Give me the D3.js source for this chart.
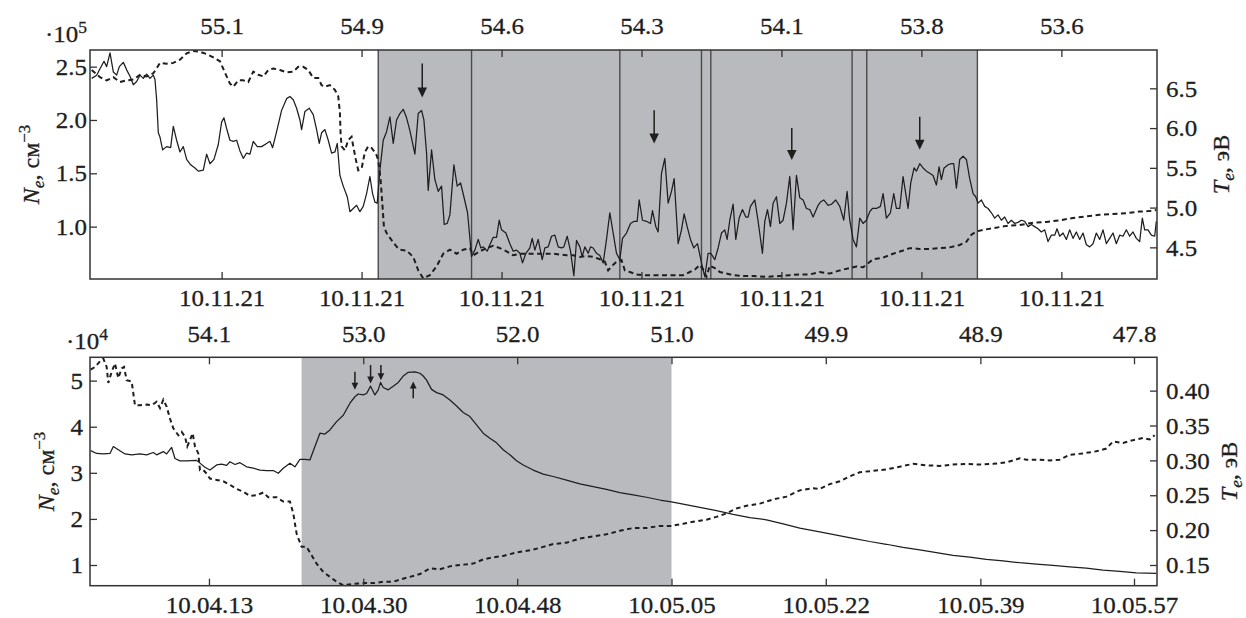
<!DOCTYPE html>
<html><head><meta charset="utf-8">
<script src="https://cdn.jsdelivr.net/npm/d3@7"></script>
<style>
body{margin:0;background:#fff}
svg text{font-family:"Liberation Serif","Times New Roman",serif;fill:#1e1e1e;stroke:#1e1e1e;stroke-width:0.3px}
</style></head><body>
<svg id="c" width="1246" height="618"></svg>
<script>
// ---------- DATA ----------
// x unit: sample index along the pass (same for both panels)
const xDomain = [0, 3202];

// Top panel
const topTickSamples = [395, 815, 1235, 1655, 2075, 2495, 2915];
const topLatLabels = ["55.1", "54.9", "54.6", "54.3", "54.1", "53.8", "53.6"];
const topTimeLabels = ["10.11.21", "10.11.21", "10.11.21", "10.11.21", "10.11.21", "10.11.21", "10.11.21"];
const topNeTicks = [1.0, 1.5, 2.0, 2.5];
const topTeTicks = [4.5, 5.0, 5.5, 6.0, 6.5];
const topNeDomain = [0.509, 2.656];
const topTeDomain = [4.102, 6.982];
const topShade = [[865, 2663]];
const topDividers = [865, 1145, 1590, 1835, 1863, 2287, 2331, 2663];
// arrows: [sample, tail Ne, tip Ne]
const topArrows = [[997, 2.53, 2.21], [1693, 2.09, 1.78], [2106, 1.925, 1.625], [2490, 2.03, 1.72]];

// Ne (x10^5 cm^-3), solid
const topNe = [[5,2.39],[20,2.42],[30,2.48],[42,2.55],[50,2.50],[60,2.63],[70,2.45],[80,2.42],[88,2.50],[100,2.54],[110,2.47],[120,2.41],[130,2.33],[140,2.36],[150,2.42],[160,2.39],[170,2.43],[180,2.39],[190,2.42],[195,2.38],[200,2.19],[205,1.88],[210,1.84],[218,1.72],[230,1.75],[242,1.74],[250,1.94],[260,1.81],[270,1.70],[280,1.75],[290,1.63],[302,1.58],[315,1.55],[325,1.52],[340,1.53],[350,1.68],[360,1.59],[372,1.63],[385,1.77],[395,1.98],[402,2.02],[410,1.92],[420,1.81],[430,1.80],[440,1.81],[450,1.71],[460,1.64],[470,1.69],[480,1.68],[490,1.80],[502,1.75],[515,1.75],[530,1.78],[540,1.80],[548,1.74],[560,1.89],[575,2.09],[590,2.20],[600,2.22],[610,2.19],[620,2.11],[630,2.00],[635,1.91],[645,2.08],[658,2.11],[670,2.05],[680,1.91],[688,1.78],[695,1.88],[705,1.91],[715,1.81],[725,1.69],[735,1.70],[742,1.78],[750,1.48],[760,1.38],[772,1.28],[780,1.14],[790,1.17],[800,1.20],[810,1.14],[820,1.19],[830,1.31],[840,1.47],[848,1.31],[855,1.23],[862,1.22],[870,1.53],[880,1.81],[890,1.89],[900,2.03],[910,1.78],[920,2.00],[930,2.06],[940,2.10],[950,2.02],[960,1.90],[975,1.68],[985,2.06],[995,2.09],[1002,2.00],[1010,1.69],[1015,1.34],[1025,1.72],[1035,1.44],[1045,1.33],[1055,1.38],[1063,1.02],[1072,1.03],[1080,1.11],[1092,1.58],[1102,1.38],[1112,1.41],[1122,1.28],[1133,1.13],[1145,0.72],[1155,0.78],[1165,0.88],[1173,0.80],[1180,0.81],[1192,0.77],[1200,0.83],[1210,0.90],[1220,0.90],[1228,1.06],[1235,0.97],[1248,0.94],[1260,0.84],[1270,0.77],[1280,0.78],[1290,0.75],[1298,0.66],[1308,0.75],[1320,0.80],[1327,0.89],[1335,0.78],[1345,0.88],[1357,0.69],[1365,0.80],[1375,0.81],[1385,0.91],[1395,0.92],[1405,0.81],[1415,0.80],[1422,0.81],[1432,0.91],[1442,0.77],[1452,0.54],[1460,0.87],[1470,0.81],[1477,0.72],[1485,0.81],[1495,0.75],[1502,0.81],[1510,0.80],[1520,0.75],[1530,0.73],[1540,0.66],[1550,0.88],[1560,1.13],[1570,0.94],[1580,0.75],[1590,0.69],[1598,0.89],[1610,0.94],[1622,1.03],[1633,1.05],[1642,1.05],[1648,1.25],[1658,1.06],[1670,1.05],[1682,1.03],[1688,1.15],[1698,1.00],[1705,0.95],[1715,1.50],[1725,1.64],[1735,1.22],[1745,1.33],[1753,1.45],[1765,0.84],[1775,0.97],[1783,1.12],[1792,1.00],[1802,0.88],[1812,0.80],[1823,0.84],[1835,0.66],[1845,0.53],[1855,0.75],[1863,0.75],[1875,0.69],[1885,0.80],[1895,0.94],[1905,0.97],[1912,0.88],[1920,1.06],[1930,1.21],[1938,0.88],[1948,1.08],[1958,1.16],[1968,1.09],[1975,1.09],[1982,1.19],[1995,1.25],[2005,1.05],[2018,0.75],[2025,1.05],[2033,1.16],[2042,1.00],[2050,1.22],[2060,1.28],[2070,1.03],[2080,1.06],[2090,1.22],[2100,1.47],[2110,0.97],[2120,1.48],[2130,1.27],[2140,1.25],[2150,1.17],[2160,1.16],[2170,1.09],[2185,1.20],[2192,1.23],[2202,1.25],[2215,1.20],[2225,1.21],[2238,1.25],[2250,1.19],[2262,1.06],[2272,1.33],[2280,1.06],[2290,0.88],[2300,0.81],[2310,1.08],[2320,1.03],[2330,1.06],[2340,1.14],[2348,1.17],[2360,1.17],[2372,1.19],[2380,1.31],[2390,1.08],[2402,1.13],[2412,1.31],[2420,1.17],[2430,1.17],[2440,1.47],[2448,1.31],[2455,1.17],[2463,1.41],[2473,1.55],[2480,1.52],[2490,1.59],[2500,1.55],[2510,1.52],[2520,1.50],[2530,1.48],[2540,1.39],[2548,1.56],[2555,1.44],[2563,1.55],[2575,1.58],[2585,1.59],[2592,1.59],[2600,1.36],[2610,1.63],[2620,1.66],[2630,1.63],[2640,1.45],[2650,1.31],[2658,1.28],[2665,1.22],[2675,1.25],[2685,1.19],[2695,1.17],[2705,1.13],[2715,1.08],[2725,1.11],[2735,1.06],[2745,1.09],[2755,1.03],[2765,1.06],[2775,1.03],[2785,1.04],[2795,1.06],[2805,1.05],[2815,1.00],[2825,1.02],[2835,1.00],[2845,0.98],[2855,0.95],[2865,0.97],[2875,0.86],[2885,0.92],[2895,0.92],[2902,0.98],[2910,0.91],[2920,0.94],[2930,0.88],[2940,0.97],[2950,0.89],[2960,0.95],[2970,0.88],[2980,0.94],[2990,0.83],[3000,0.81],[3010,0.84],[3020,0.94],[3030,0.88],[3040,0.97],[3050,0.84],[3060,0.89],[3070,0.94],[3080,0.84],[3090,0.92],[3100,0.91],[3110,0.97],[3120,0.91],[3130,0.95],[3140,0.89],[3150,0.86],[3158,1.08],[3165,0.97],[3175,0.97],[3185,0.92],[3195,0.91],[3200,1.05]];

// Te (eV), dashed
const topTe = [[5,6.73],[30,6.64],[50,6.60],[70,6.64],[90,6.58],[110,6.60],[130,6.61],[150,6.67],[170,6.65],[190,6.69],[200,6.75],[210,6.82],[230,6.81],[250,6.82],[270,6.86],[290,6.94],[310,6.97],[330,6.96],[350,6.93],[370,6.89],[390,6.84],[410,6.65],[420,6.56],[430,6.52],[445,6.60],[460,6.60],[475,6.58],[490,6.71],[505,6.67],[520,6.65],[535,6.73],[550,6.75],[570,6.73],[590,6.70],[610,6.71],[625,6.77],[640,6.77],[655,6.73],[670,6.63],[685,6.63],[695,6.54],[705,6.52],[720,6.54],[735,6.48],[745,6.40],[750,6.19],[752,5.93],[755,5.77],[765,5.72],[775,5.85],[785,5.89],[790,5.77],[798,5.60],[805,5.47],[815,5.49],[825,5.70],[835,5.77],[845,5.75],[858,5.68],[865,5.60],[872,5.35],[878,5.01],[882,4.76],[890,4.68],[905,4.59],[920,4.51],[930,4.47],[950,4.46],[970,4.38],[985,4.21],[1000,4.11],[1020,4.15],[1040,4.26],[1060,4.42],[1080,4.47],[1100,4.42],[1120,4.47],[1140,4.49],[1150,4.40],[1170,4.45],[1190,4.49],[1210,4.52],[1230,4.49],[1250,4.45],[1270,4.40],[1290,4.42],[1310,4.42],[1330,4.42],[1350,4.42],[1370,4.42],[1390,4.42],[1410,4.41],[1430,4.40],[1450,4.40],[1470,4.38],[1490,4.39],[1510,4.38],[1530,4.35],[1545,4.32],[1555,4.21],[1565,4.26],[1580,4.32],[1595,4.34],[1605,4.21],[1620,4.19],[1640,4.16],[1660,4.15],[1680,4.15],[1700,4.15],[1720,4.15],[1740,4.15],[1760,4.15],[1780,4.15],[1800,4.19],[1815,4.22],[1830,4.28],[1842,4.21],[1850,4.13],[1860,4.27],[1875,4.24],[1890,4.19],[1910,4.17],[1930,4.15],[1960,4.14],[1990,4.14],[2030,4.13],[2070,4.14],[2100,4.15],[2130,4.16],[2160,4.16],[2190,4.19],[2220,4.17],[2250,4.21],[2280,4.24],[2300,4.26],[2320,4.25],[2335,4.30],[2350,4.35],[2380,4.37],[2410,4.42],[2440,4.46],[2460,4.49],[2490,4.48],[2520,4.48],[2550,4.49],[2580,4.50],[2610,4.53],[2630,4.57],[2645,4.66],[2660,4.70],[2680,4.72],[2710,4.74],[2750,4.77],[2790,4.78],[2830,4.81],[2870,4.82],[2910,4.84],[2950,4.87],[2990,4.89],[3030,4.91],[3070,4.92],[3110,4.93],[3150,4.95],[3190,4.96],[3200,4.97]];

// Bottom panel
const botTickSamples = [357, 820, 1282, 1745, 2208, 2672, 3133];
const botLatLabels = ["54.1", "53.0", "52.0", "51.0", "49.9", "48.9", "47.8"];
const botTimeLabels = ["10.04.13", "10.04.30", "10.04.48", "10.05.05", "10.05.22", "10.05.39", "10.05.57"];
const botNeTicks = [1, 2, 3, 4, 5];
const botTeTicks = [0.15, 0.20, 0.25, 0.30, 0.35, 0.40];
const botNeDomain = [0.551, 5.506];
const botTeDomain = [0.1203, 0.4478];
const botShade = [[635, 1745]];
const botDividers = [];
const botArrows = [[795, 5.195, 4.80], [842, 5.34, 4.94], [873, 5.34, 5.01], [970, 4.617, 4.98]];

// Ne (x10^4 cm^-3), solid
const botNe = [[2,3.48],[20,3.42],[40,3.41],[60,3.42],[70,3.57],[85,3.50],[105,3.41],[125,3.39],[150,3.41],[170,3.39],[190,3.44],[200,3.39],[220,3.46],[230,3.41],[245,3.55],[255,3.31],[270,3.26],[290,3.26],[320,3.27],[330,3.21],[345,3.12],[360,3.06],[380,3.17],[395,3.19],[410,3.16],[420,3.24],[435,3.18],[450,3.22],[470,3.13],[490,3.10],[510,3.06],[530,3.05],[550,3.05],[565,2.99],[580,3.10],[600,3.21],[615,3.13],[630,3.29],[645,3.29],[660,3.28],[675,3.57],[690,3.86],[705,3.84],[720,3.93],[740,4.11],[760,4.25],[780,4.51],[795,4.65],[805,4.71],[820,4.69],[830,4.72],[842,4.88],[855,4.69],[865,4.80],[872,4.96],[880,4.85],[895,4.80],[910,4.88],[925,4.96],[940,5.10],[955,5.18],[975,5.19],[990,5.16],[1000,5.10],[1010,5.01],[1025,4.81],[1040,4.74],[1060,4.69],[1080,4.58],[1100,4.45],[1120,4.31],[1140,4.22],[1160,4.04],[1180,3.86],[1200,3.75],[1220,3.65],[1240,3.50],[1260,3.39],[1280,3.26],[1300,3.17],[1330,3.06],[1360,2.97],[1390,2.92],[1430,2.84],[1470,2.76],[1510,2.70],[1550,2.64],[1590,2.57],[1630,2.52],[1670,2.47],[1710,2.41],[1745,2.37],[1780,2.32],[1830,2.25],[1880,2.18],[1930,2.10],[1980,2.03],[2030,1.98],[2080,1.89],[2130,1.80],[2190,1.72],[2240,1.65],[2290,1.58],[2340,1.51],[2390,1.45],[2440,1.38],[2490,1.33],[2540,1.27],[2590,1.21],[2640,1.17],[2690,1.12],[2740,1.09],[2790,1.05],[2840,1.02],[2890,0.99],[2940,0.96],[2990,0.93],[3040,0.89],[3090,0.86],[3140,0.83],[3200,0.82]];

// Te (eV), dashed
const botTe = [[2,0.430],[15,0.434],[30,0.442],[40,0.446],[50,0.434],[55,0.411],[65,0.427],[75,0.439],[85,0.418],[95,0.432],[102,0.434],[110,0.415],[125,0.413],[130,0.396],[135,0.379],[150,0.379],[170,0.380],[185,0.379],[200,0.384],[210,0.375],[220,0.387],[230,0.377],[240,0.360],[250,0.346],[265,0.336],[275,0.341],[285,0.334],[292,0.320],[300,0.329],[308,0.339],[315,0.320],[325,0.310],[330,0.286],[340,0.286],[350,0.281],[360,0.274],[380,0.272],[400,0.270],[420,0.265],[440,0.259],[460,0.255],[480,0.249],[500,0.250],[520,0.254],[535,0.247],[560,0.247],[580,0.241],[600,0.241],[610,0.224],[620,0.195],[635,0.176],[650,0.176],[665,0.164],[680,0.152],[700,0.140],[720,0.133],[740,0.126],[760,0.121],[790,0.123],[820,0.124],[850,0.124],[880,0.126],[910,0.126],[930,0.129],[960,0.133],[990,0.137],[1020,0.145],[1050,0.144],[1080,0.148],[1110,0.150],[1150,0.152],[1180,0.158],[1210,0.161],[1240,0.163],[1280,0.168],[1330,0.172],[1360,0.176],[1390,0.180],[1430,0.182],[1470,0.188],[1510,0.191],[1550,0.194],[1590,0.199],[1630,0.203],[1670,0.203],[1710,0.206],[1745,0.206],[1780,0.209],[1810,0.212],[1850,0.215],[1880,0.219],[1910,0.224],[1940,0.231],[1970,0.235],[2010,0.238],[2050,0.244],[2090,0.248],[2130,0.257],[2170,0.260],[2190,0.259],[2220,0.266],[2250,0.270],[2280,0.277],[2310,0.283],[2350,0.285],[2390,0.287],[2430,0.291],[2470,0.295],[2510,0.293],[2550,0.292],[2590,0.294],[2630,0.295],[2670,0.294],[2710,0.295],[2750,0.297],[2790,0.303],[2810,0.301],[2840,0.301],[2880,0.300],[2910,0.301],[2940,0.308],[2980,0.310],[3020,0.313],[3050,0.317],[3070,0.327],[3100,0.325],[3130,0.329],[3160,0.332],[3180,0.330],[3195,0.336]];

// ---------- DRAW ----------
const svg = d3.select('#c');
const FS = 24, SX = 1.04, INK = '#1e1e1e', AX = '#333';

function styleAxis(g) {
  g.select('.domain').remove();
  g.selectAll('.tick line').attr('stroke', AX).attr('stroke-width', 1.3);
  g.selectAll('.tick text').attr('font-size', FS).attr('font-family', null).attr('fill', null).classed('hs', true);
  g.attr('font-family', null).attr('font-size', null);
}

function panel(c) {
  const g = svg.append('g');
  const L = 90, R = 1157;
  const x = d3.scaleLinear().domain(xDomain).range([L, R]);
  const yL = d3.scaleLinear().domain(c.neDomain).range([c.bottom, c.top]);
  const yR = d3.scaleLinear().domain(c.teDomain).range([c.bottom, c.top]);

  g.selectAll('rect.shade').data(c.shade).join('rect')
    .attr('x', d => x(d[0])).attr('y', c.top)
    .attr('width', d => x(d[1]) - x(d[0])).attr('height', c.bottom - c.top)
    .attr('fill', '#b9babd');
  g.selectAll('line.div').data(c.dividers).join('line')
    .attr('x1', d => x(d)).attr('x2', d => x(d)).attr('y1', c.top).attr('y2', c.bottom)
    .attr('stroke', '#4a4a4a').attr('stroke-width', 1.4);

  g.append('path').datum(c.ne)
    .attr('d', d3.line().x(d => x(d[0])).y(d => yL(d[1])))
    .attr('fill', 'none').attr('stroke', INK).attr('stroke-width', 1.25).attr('stroke-linejoin', 'round');
  g.append('path').datum(c.te)
    .attr('d', d3.line().x(d => x(d[0])).y(d => yR(d[1])))
    .attr('fill', 'none').attr('stroke', INK).attr('stroke-width', 2).attr('stroke-dasharray', c.dash);

  // arrows
  c.arrows.forEach(([s, a, b]) => {
    const xx = x(s), y0 = yL(a), y1 = yL(b);
    const dir = Math.sign(y1 - y0), hl = c.head, hw = c.head * 0.48;
    g.append('line').attr('x1', xx).attr('x2', xx).attr('y1', y0).attr('y2', y1 - dir * hl * 0.8)
      .attr('stroke', INK).attr('stroke-width', 1.5);
    g.append('path').attr('d', `M${xx},${y1}L${xx - hw},${y1 - dir * hl}L${xx + hw},${y1 - dir * hl}Z`).attr('fill', INK);
  });

  // axes
  const ax1 = g.append('g').attr('transform', `translate(0,${c.top})`)
    .call(d3.axisTop(x).tickValues(c.ticks).tickFormat((d, i) => c.latLabels[i]).tickSize(-7).tickSizeOuter(0).tickPadding(c.padTop));
  styleAxis(ax1);
  const ax2 = g.append('g').attr('transform', `translate(0,${c.bottom})`)
    .call(d3.axisBottom(x).tickValues(c.ticks).tickFormat((d, i) => c.timeLabels[i]).tickSize(-7).tickSizeOuter(0).tickPadding(c.padBottom));
  styleAxis(ax2);
  const ax3 = g.append('g').attr('transform', `translate(${L},0)`)
    .call(d3.axisLeft(yL).tickValues(c.neTicks).tickFormat(c.neFmt).tickSize(-7).tickSizeOuter(0).tickPadding(c.padLeft));
  styleAxis(ax3);
  const ax4 = g.append('g').attr('transform', `translate(${R},0)`)
    .call(d3.axisRight(yR).tickValues(c.teTicks).tickFormat(d3.format('.' + c.teDec + 'f')).tickSize(-7).tickSizeOuter(0).tickPadding(9));
  styleAxis(ax4);

  g.append('rect').attr('x', L).attr('y', c.top).attr('width', R - L).attr('height', c.bottom - c.top)
    .attr('fill', 'none').attr('stroke', AX).attr('stroke-width', 1.5);

  // exponent
  const ex = g.append('text').attr('x', c.expX).attr('y', c.top - 8).attr('font-size', FS).classed('hs', true);
  ex.append('tspan').text('·10');
  ex.append('tspan').text(c.exp).attr('font-size', FS * 0.7).attr('dy', -9);

  // axis titles
  const mid = (c.top + c.bottom) / 2;
  const t1 = g.append('text').attr('transform', `translate(${c.lblL},${mid}) rotate(-90)`)
    .attr('text-anchor', 'middle').attr('font-size', FS);
  t1.append('tspan').text('N').attr('font-style', 'italic');
  t1.append('tspan').text('e').attr('font-style', 'italic').attr('font-size', FS * 0.72).attr('dy', 5);
  t1.append('tspan').text(', см').attr('dy', -5);
  t1.append('tspan').text('−3').attr('font-size', FS * 0.7).attr('dy', -9);
  const t2 = g.append('text').attr('transform', `translate(${c.lblR},${mid}) rotate(-90)`)
    .attr('text-anchor', 'middle').attr('font-size', FS);
  t2.append('tspan').text('T').attr('font-style', 'italic');
  t2.append('tspan').text('e').attr('font-style', 'italic').attr('font-size', FS * 0.72).attr('dy', 5);
  t2.append('tspan').text(', эВ').attr('dy', -5);
}

panel({
  top: 50, bottom: 279, neDomain: topNeDomain, teDomain: topTeDomain,
  shade: topShade, dividers: topDividers, ne: topNe, te: topTe, dash: '5,3.5',
  arrows: topArrows, head: 10, ticks: topTickSamples, latLabels: topLatLabels, timeLabels: topTimeLabels,
  neTicks: topNeTicks, neFmt: d3.format('.1f'), teTicks: topTeTicks, teDec: 1,
  padTop: 16, padBottom: 10, padLeft: 3, expX: 45, exp: '5', lblL: 39, lblR: 1229
});
panel({
  top: 357.3, bottom: 585.7, neDomain: botNeDomain, teDomain: botTeDomain,
  shade: botShade, dividers: botDividers, ne: botNe, te: botTe, dash: '4.5,3.5',
  arrows: botArrows, head: 7, ticks: botTickSamples, latLabels: botLatLabels, timeLabels: botTimeLabels,
  neTicks: botNeTicks, neFmt: d3.format('d'), teTicks: botTeTicks, teDec: 2,
  padTop: 15.5, padBottom: 10.5, padLeft: 7, expX: 66, exp: '4', lblL: 54, lblR: 1237
});

// slight horizontal widening of the serif face, as in the reference
svg.selectAll('text.hs').each(function () {
  const w = this.getComputedTextLength();
  this.setAttribute('textLength', (w * SX).toFixed(1));
  this.setAttribute('lengthAdjust', 'spacingAndGlyphs');
});
</script></body></html>
